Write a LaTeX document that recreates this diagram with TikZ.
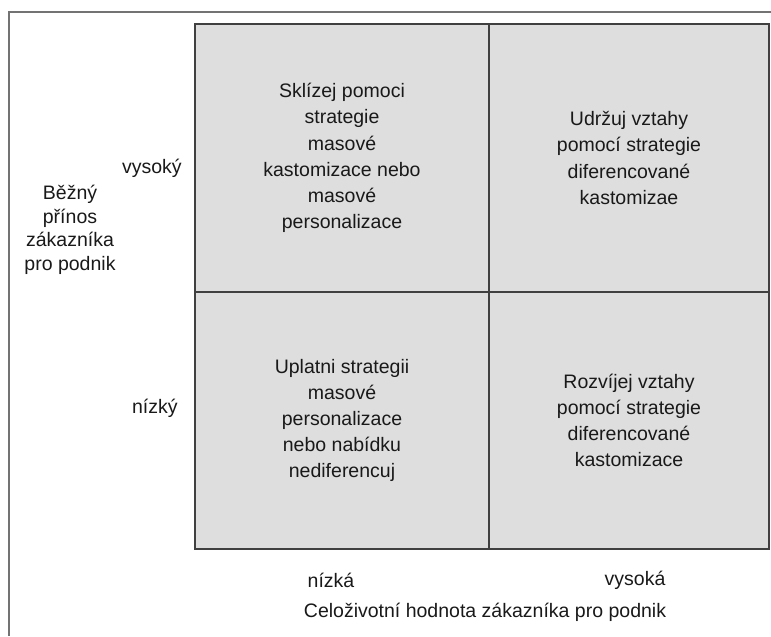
\documentclass[tikz,border=0pt]{standalone}
\usepackage{fontspec}
\setmainfont{Liberation Sans}
\usetikzlibrary{positioning}

\begin{document}
\begin{tikzpicture}[
    cell/.style={rectangle, draw=black!75, line width=0.9pt, fill=black!13, align=center, outer sep=0pt,
      font=\fontsize{11.1}{14.9}\selectfont, text=black!90},
    axislabel/.style={inner sep=0pt, align=center, font=\fontsize{11.1}{13.4}\selectfont, text=black!90},
    frame/.style={draw=black!55, line width=0.8pt}
  ]

    \useasboundingbox (0,0) rectangle (15.42,12.72);
    \draw[frame] (0.18,0) -- (0.18,12.48) -- (15.42,12.48);

    % the four quadrants
    \node[cell, minimum width=5.88cm, minimum height=5.36cm, anchor=north west] (tl) at (3.9,12.24) {
      Sklízej pomoci\\
      strategie\\
      masové\\
      kastomizace nebo\\
      masové\\
      personalizace
    };

    \node[cell, minimum width=5.6cm, minimum height=5.36cm, anchor=north west] (tr) at (tl.north east) {
      Udržuj vztahy\\
      pomocí strategie\\
      diferencované\\
      kastomizae
    };

    \node[cell, minimum width=5.88cm, minimum height=5.14cm, anchor=north west] (bl) at (tl.south west) {
      Uplatni strategii\\
      masové\\
      personalizace\\
      nebo nabídku\\
      nediferencuj
    };

    \node[cell, minimum width=5.6cm, minimum height=5.14cm, anchor=north west] (br) at (bl.north east) {
      Rozvíjej vztahy\\
      pomocí strategie\\
      diferencované\\
      kastomizace
    };

    % vertical axis
    \node[axislabel, left=0.26cm of tl, yshift=-0.2cm] (vysoky) {vysoký};
    \node[axislabel, left=0.34cm of bl, yshift=0.24cm] (nizky) {nízký};
    \node[axislabel] (prinos) at (1.4,8.12) {
      Běžný\\
      přínos\\
      zákazníka\\
      pro podnik
    };

    % horizontal axis
    \node[axislabel] (nizka) at (6.62,1.12) {nízká};
    \node[axislabel] (vysoka) at (12.7,1.12) {vysoká};
    \node[axislabel] (hodnota) at (9.7,0.48) {Celoživotní hodnota zákazníka pro podnik};
  \end{tikzpicture}
\end{document}
